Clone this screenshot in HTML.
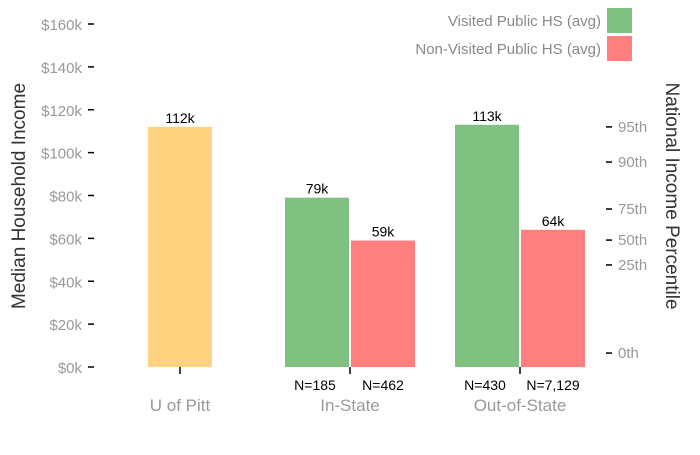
<!DOCTYPE html>
<html><head><meta charset="utf-8"><style>
body{margin:0;background:#fff;}
svg{font-family:"Liberation Sans",sans-serif;}
</style></head><body>
<svg id="c" width="700" height="450"></svg>
<script>
const categories=["U of Pitt","In-State","Out-of-State"];
const visited=[112,79,113];
const nonVisited=[null,59,64];
const nVisited=["","N=185","N=430"];
const nNon=["","N=462","N=7,129"];
const leftTicks=[0,20,40,60,80,100,120,140,160];
const pctLabels=["0th","25th","50th","75th","90th","95th"];
const pctIncome=[6.5,47.6,59.2,73.7,95.6,112];
const svg=document.getElementById('c');
const NS='http://www.w3.org/2000/svg';
function y(v){return 367-v*343/160;}
const centers=[180,350,520];
function mk(t,a,txt){const e=document.createElementNS(NS,t);for(const k in a)e.setAttribute(k,a[k]);if(txt!=null)e.textContent=txt;svg.appendChild(e);return e;}
leftTicks.forEach(v=>{
 let e=mk('text',{x:82,y:y(v)+6,'text-anchor':'end','font-size':15,fill:'#999'},'$'+v+'k');
 
 
 let l=mk('line',{x1:88,x2:94,y1:y(v),y2:y(v),stroke:'#000','stroke-width':1.5});
 
 
});
pctLabels.forEach((p,i)=>{
 let l=mk('line',{x1:606,x2:612,y1:y(pctIncome[i]),y2:y(pctIncome[i]),stroke:'#000','stroke-width':1.5});
 
 
 let e=mk('text',{x:618,y:y(pctIncome[i])+5,'font-size':15,fill:'#999'},p);
 
 
});
categories.forEach((c,i)=>{
 const cx=centers[i];
 let t=mk('line',{x1:cx,x2:cx,y1:367,y2:374,stroke:'#000','stroke-width':1.5});
 
 
 let lb=mk('text',{x:cx,y:411,'text-anchor':'middle','font-size':17,fill:'#999'},c);
 
 
 let vx,col;
 if(nonVisited[i]==null){vx=cx-32;col='#ffd27f';}else{vx=cx-65;col='#80c080';}
 let b=mk('rect',{x:vx,y:y(visited[i]),width:64,height:367-y(visited[i]),fill:col});
 
 
 let bt=mk('text',{x:vx+32,y:y(visited[i])-4,'text-anchor':'middle','font-size':14,fill:'#000'},visited[i]+'k');
 
 
 if(nonVisited[i]!=null){
  let rx=cx+1;
  let r=mk('rect',{x:rx,y:y(nonVisited[i]),width:64,height:367-y(nonVisited[i]),fill:'#ff7f7f'});
  
  
  let rt=mk('text',{x:rx+32,y:y(nonVisited[i])-4,'text-anchor':'middle','font-size':14,fill:'#000'},nonVisited[i]+'k');
  
  
  let n1=mk('text',{x:vx+30,y:390,'text-anchor':'middle','font-size':14,fill:'#000'},nVisited[i]);
  
  
  let n2=mk('text',{x:rx+32,y:390,'text-anchor':'middle','font-size':14,fill:'#000'},nNon[i]);
  
  
 }
});
</script>
<svg style="position:absolute;left:0;top:0" width="700" height="450">
<text transform="translate(25,196) rotate(-90)" text-anchor="middle" font-size="19" fill="#333" font-family="Liberation Sans,sans-serif">Median Household Income</text>
<text transform="translate(666,196) rotate(90)" text-anchor="middle" font-size="19" fill="#333" font-family="Liberation Sans,sans-serif">National Income Percentile</text>
<g font-family="Liberation Sans,sans-serif">
<text x="601" y="26" text-anchor="end" font-size="15" fill="#888">Visited Public HS (avg)</text>
<rect x="607" y="8" width="25" height="25" fill="#80c080"/>
<text x="601" y="54" text-anchor="end" font-size="15" fill="#888">Non-Visited Public HS (avg)</text>
<rect x="607" y="36" width="25" height="25" fill="#ff7f7f"/>
</g>
</svg>
</body></html>
